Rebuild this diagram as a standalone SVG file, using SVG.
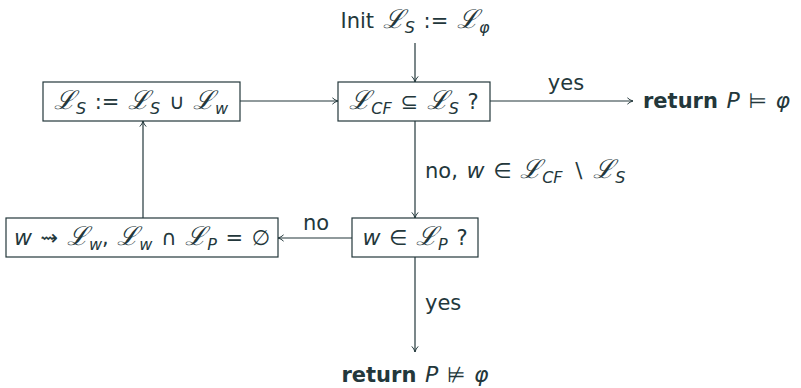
<svg xmlns="http://www.w3.org/2000/svg" width="801" height="388" viewBox="0 0 801 388">
<style>
text{font-family:"DejaVu Sans","Liberation Sans",sans-serif;font-size:21px;fill:#23373b;word-spacing:2px}
.m{font-family:"DejaVu Sans",sans-serif;font-style:italic;font-size:22px}
.L{font-family:"DejaVu Serif",serif;font-style:italic;font-size:26px}
.s{font-size:16px;font-family:"DejaVu Sans",sans-serif;font-style:italic}
.b{font-weight:bold}
rect{fill:none;stroke:#23373b;stroke-width:1.2}
.e line{stroke:#23373b;stroke-width:1.2;fill:none}
</style>
<defs>
<marker id="a" viewBox="0 0 10 10" refX="9" refY="5" markerWidth="8" markerHeight="8" orient="auto" markerUnits="userSpaceOnUse">
<path d="M2,1 Q5,4 9,5 Q5,6 2,9" fill="none" stroke="#23373b" stroke-width="1.2"/>
</marker>
</defs>
<rect width="801" height="388" fill="#fafafa" style="stroke:none"/>
<g id="init"><text x="415" y="28" text-anchor="middle">Init <tspan class="L">ℒ</tspan><tspan class="s" dy="5">S</tspan><tspan dy="-5"> := </tspan><tspan class="L">ℒ</tspan><tspan class="s" dy="5">φ</tspan></text></g>
<g id="check"><rect x="338" y="82" width="152" height="39"/><text x="414" y="109" text-anchor="middle"><tspan class="L">ℒ</tspan><tspan class="s" dy="5">CF</tspan><tspan dy="-5"> ⊆ </tspan><tspan class="L">ℒ</tspan><tspan class="s" dy="5">S</tspan><tspan dy="-5"> ?</tspan></text></g>
<g id="update"><rect x="43" y="82" width="197" height="39"/><text x="141" y="109" text-anchor="middle"><tspan class="L">ℒ</tspan><tspan class="s" dy="5">S</tspan><tspan dy="-5"> := </tspan><tspan class="L">ℒ</tspan><tspan class="s" dy="5">S</tspan><tspan dy="-5"> ∪ </tspan><tspan class="L">ℒ</tspan><tspan class="s" dy="5">w</tspan></text></g>
<g id="ret1"><text x="643" y="108"><tspan class="b">return</tspan>  <tspan class="m">P</tspan> ⊨ <tspan class="m">φ</tspan></text></g>
<g id="inP"><rect x="352" y="218" width="126" height="39"/><text x="415" y="245" text-anchor="middle"><tspan class="m">w</tspan> ∈ <tspan class="L">ℒ</tspan><tspan class="s" dy="5">P</tspan><tspan dy="-5"> ?</tspan></text></g>
<g id="gen"><rect x="6" y="218" width="272" height="39"/><text x="142" y="245" text-anchor="middle"><tspan class="m">w</tspan> ⇝ <tspan class="L">ℒ</tspan><tspan class="s" dy="5">w</tspan><tspan dy="-5">, </tspan><tspan class="L">ℒ</tspan><tspan class="s" dy="5">w</tspan><tspan dy="-5"> ∩ </tspan><tspan class="L">ℒ</tspan><tspan class="s" dy="5">P</tspan><tspan dy="-5"> = ∅</tspan></text></g>
<g id="ret2"><text x="415" y="382" text-anchor="middle"><tspan class="b">return</tspan>  <tspan class="m">P</tspan> ⊭ <tspan class="m">φ</tspan></text></g>
<g class="e" id="edges">
<line x1="415" y1="43" x2="415" y2="82" marker-end="url(#a)"/>
<line x1="240" y1="101" x2="338" y2="101" marker-end="url(#a)"/>
<line x1="490" y1="101" x2="633" y2="101" marker-end="url(#a)"/>
<text x="566" y="90" text-anchor="middle">yes</text>
<line x1="415" y1="121" x2="415" y2="218" marker-end="url(#a)"/>
<text x="425" y="178">no, <tspan class="m">w</tspan> ∈ <tspan class="L">ℒ</tspan><tspan class="s" dy="5">CF</tspan><tspan dy="-5"> ∖ </tspan><tspan class="L">ℒ</tspan><tspan class="s" dy="5">S</tspan></text>
<line x1="352" y1="238" x2="278" y2="238" marker-end="url(#a)"/>
<text x="316" y="230" text-anchor="middle">no</text>
<line x1="143" y1="218" x2="143" y2="121" marker-end="url(#a)"/>
<line x1="415" y1="257" x2="415" y2="352" marker-end="url(#a)"/>
<text x="425" y="310">yes</text>
</g>
</svg>
